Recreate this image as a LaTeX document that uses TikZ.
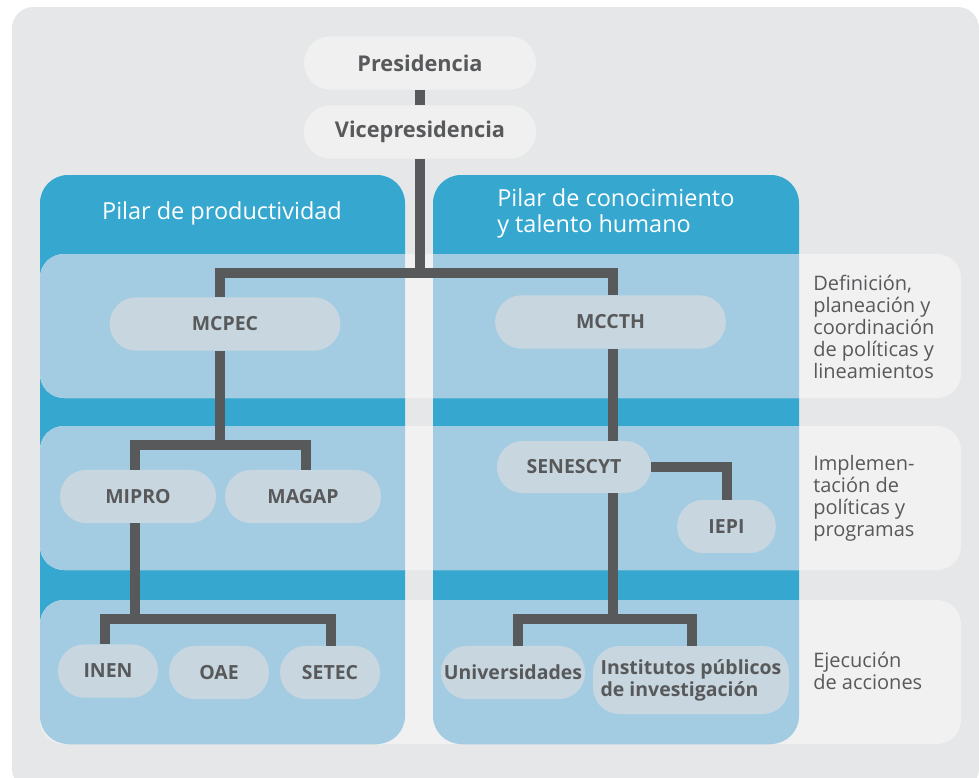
\documentclass[tikz,border=0pt]{standalone}
\usepackage{fontspec}
\setmainfont{Open Sans}
\usetikzlibrary{positioning}
\definecolor{fondo}{HTML}{E6E7E8}
\definecolor{franja}{HTML}{F1F1F2}
\definecolor{azul}{HTML}{36A8D0}
\definecolor{azulclaro}{HTML}{A3CCE3}
\definecolor{caja}{HTML}{C8D6DF}
\definecolor{cajatop}{HTML}{F0F0F0}
\definecolor{gris}{HTML}{58595B}
\begin{document}
\begin{tikzpicture}[x=0.75pt, y=-0.75pt, line join=miter,
    ente/.style={fill=caja, rounded corners=19.8pt, text=gris, inner sep=0pt, align=center, minimum height=40pt, font=\bfseries\fontsize{14.6}{16.5}\selectfont},
    entetop/.style={ente, fill=cajatop, font=\bfseries\fontsize{16.3}{18}\selectfont},
    conn/.style={draw=gris, line width=7.5pt},
    nivel/.style={text=gris, anchor=west, align=left, inner sep=0pt, font=\fontsize{15}{16.6}\selectfont},
    pilar/.style={text=white, inner sep=0pt, align=left, font=\fontsize{17.6}{19.5}\selectfont}]
    \useasboundingbox (0,0) rectangle (979,778);
    % fondo y pilares
    \fill[fondo, rounded corners=16pt] (12,7) rectangle (979,790);
    \fill[azul, rounded corners=21pt] (40,175) rectangle (405,744);
    \fill[azul, rounded corners=21pt] (433,175) rectangle (799,744);
    \foreach \t/\b in {254/398, 426/570, 600/744} {
        \fill[franja, rounded corners=18pt] (40,\t) rectangle (961,\b);
        \begin{scope}
            \clip[rounded corners=21pt] (40,175) rectangle (405,744) (433,175) rectangle (799,744);
            \fill[azulclaro, rounded corners=18pt] (40,\t) rectangle (961,\b);
        \end{scope}
    }
    \node[pilar] (pilarprod) at (222,213) {Pilar de productividad};
    \node[pilar, anchor=west] (pilarcon) at (497,213) {Pilar de conocimiento\\y talento humano};
    % entes
    \node[entetop, minimum width=174pt] (pres) at (420,63) {Presidencia};
    \node[entetop, minimum width=174pt] (vice) at (420,132) {Vicepresidencia};
    \node[ente, minimum width=173pt] (mcpec) at (225,324) {MCPEC};
    \node[ente, minimum width=173pt] (mccth) at (610.5,322) {MCCTH};
    \node[ente, minimum width=117pt] (mipro) at (138,496.5) {MIPRO};
    \node[ente, minimum width=117pt] (magap) at (303,496.5) {MAGAP};
    \node[ente, minimum width=115.5pt, minimum height=39pt, rounded corners=19.3pt] (senescyt) at (574,467) {SENESCYT};
    \node[ente, minimum width=74pt] (iepi) at (726.5,526.5) {IEPI};
    \node[ente, minimum width=75pt] (inen) at (108,671) {INEN};
    \node[ente, minimum width=75pt] (oae) at (219,672.5) {OAE};
    \node[ente, minimum width=75pt] (setec) at (330,672.5) {SETEC};
    \node[ente, minimum width=108pt] (univ) at (513,672.5) {Universidades};
    \node[ente, minimum width=147pt, minimum height=51pt, align=left] (inst) at (691,680) {Institutos públicos\\de investigación};
    % niveles
    \node[nivel] (def) at (813,327) {Definición,\\planeación y\\coordinación\\de políticas y\\lineamientos};
    \node[nivel] (impl) at (813,498) {Implemen-\\tación de\\políticas y\\programas};
    \node[nivel] (ejec) at (813,671) {Ejecución\\de acciones};
    % conectores
    \coordinate (b1w) at (220,273);
    \coordinate (b1e) at (613,273);
    \coordinate (b2w) at (135,445);
    \coordinate (b2e) at (306,445);
    \coordinate (b3w) at (105,619);
    \coordinate (b3e) at (331,619);
    \coordinate (b4w) at (518,619);
    \coordinate (b4e) at (692,619);
    \coordinate (iepiup) at (727,467);
    \draw[conn] (pres) -- (vice);
    \draw[conn] (vice) -- (vice |- b1w);
    \draw[conn] (mcpec.north -| b1w) -- (b1w) -- (b1e) -- (mccth.north -| b1e);
    \draw[conn] (mcpec.south -| b1w) -- (b1w |- b2w);
    \draw[conn] (mipro.north -| b2w) -- (b2w) -- (b2e) -- (magap.north -| b2e);
    \draw[conn] (mipro.south -| b2w) -- (b2w |- b3w);
    \draw[conn] (inen.north -| b3w) -- (b3w) -- (b3e) -- (setec.north -| b3e);
    \draw[conn] (oae.north -| b1w) -- (oae.north -| b1w |- b3w);
    \draw[conn] (mccth.south -| b1e) -- (senescyt.north -| b1e);
    \draw[conn] (senescyt.south -| b1e) -- (b1e |- b4w);
    \draw[conn] (univ.north -| b4w) -- (b4w) -- (b4e) -- (inst.north -| b4e);
    \draw[conn] (senescyt.east) -- (iepiup) -- (iepi.north -| iepiup);
\end{tikzpicture}
\end{document}
